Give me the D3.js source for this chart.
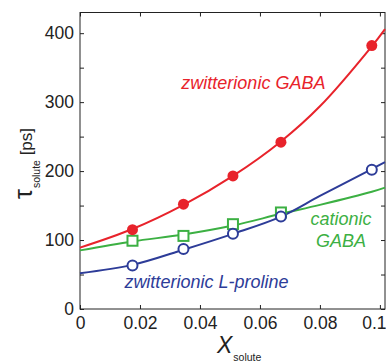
<meta charset="utf-8">
<title>tau solute</title>
<style>
  body { margin: 0; background: #fff; }
  text { font-family: "Liberation Sans", Arial, sans-serif; }
</style>
<body>
<script src="https://d3js.org/d3.v7.min.js"></script>
<script>

var width = 386;
var height = 364;
var margin = { top: 12.5, right: 1, bottom: 55, left: 80 };

// measured points
var xPts = [0.0175, 0.0345, 0.051, 0.067, 0.0973];
var redPts = [115, 152, 193, 242, 382];
var greenPts = [99, 106, 123, 140];
var bluePts = [63, 87, 109, 134, 202];

// fit curves
var fitX = [0, 0.0175, 0.0345, 0.051, 0.067, 0.08, 0.0973, 0.1017];
var redFit = [89, 116, 151, 193, 243, 294, 381, 406];
var greenFit = [85, 98, 108, 121, 138, 151, 170, 176];
var blueFit = [52, 64, 86, 109, 134, 164, 203, 213];

var xTicks = [0, 0.02, 0.04, 0.06, 0.08, 0.1];
var xTickLabels = ['0', '0.02', '0.04', '0.06', '0.08', '0.1'];
var yTicks = [0, 50, 100, 150, 200, 250, 300, 350, 400];
var yTickLabels = ['0', '', '100', '', '200', '', '300', '', '400'];

var red = '#e8232b', green = '#3cb043', blue = '#2d3c98';

var svg = d3.select('body').append('svg')
    .attr('width', width)
    .attr('height', height);

var x = d3.scaleLinear().domain([0, 0.1017]).range([margin.left, width - margin.right]);
var y = d3.scaleLinear().domain([0, 430]).range([height - margin.bottom, margin.top]);

var axisColor = '#222';

// frame
svg.append('rect')
    .attr('x', x(0)).attr('y', y(430))
    .attr('width', x(0.1017) - x(0)).attr('height', y(0) - y(430))
    .style('fill', 'none').style('stroke', axisColor).style('stroke-width', 1);

// axes: ticks inward, on all four sides
var gx = svg.append('g').attr('transform', 'translate(0,' + y(0) + ')')
    .call(d3.axisBottom(x).tickValues(xTicks).tickSize(-4).tickPadding(8)
      .tickFormat(function(d, i) { return xTickLabels[i]; }));
var gxTop = svg.append('g').attr('transform', 'translate(0,' + y(430) + ')')
    .call(d3.axisTop(x).tickValues(xTicks).tickSize(-4).tickFormat(''));
var gy = svg.append('g').attr('transform', 'translate(' + x(0) + ',0)')
    .call(d3.axisLeft(y).tickValues(yTicks).tickSize(-4).tickPadding(6)
      .tickFormat(function(d, i) { return yTickLabels[i]; }));
var gyR = svg.append('g').attr('transform', 'translate(' + x(0.1017) + ',0)')
    .call(d3.axisRight(y).tickValues(yTicks).tickSize(-4).tickFormat(''));

[gx, gxTop, gy, gyR].forEach(function(g) {
  g.select('.domain').remove();
  g.selectAll('line').style('stroke', axisColor);
  g.selectAll('text').style('font-size', '17.5px').style('fill', axisColor)
    .style('font-family', '"Liberation Sans", Arial, sans-serif');
});
gx.selectAll('text').attr('dy', '0.71em');
// last label sits against the right edge
gx.selectAll('.tick').filter(function(d) { return d === 0.1; })
    .select('text').attr('text-anchor', 'end').attr('x', width - x(0.1));

// fit lines
var line = d3.line()
    .x(function(d) { return x(d[0]); })
    .y(function(d) { return y(d[1]); })
    .curve(d3.curveCatmullRom.alpha(0.5));

function fitData(vals) { return fitX.map(function(v, i) { return [v, vals[i]]; }); }

svg.append('path').datum(fitData(greenFit)).attr('d', line)
    .style('fill', 'none').style('stroke', green).style('stroke-width', 2);
svg.append('path').datum(fitData(blueFit)).attr('d', line)
    .style('fill', 'none').style('stroke', blue).style('stroke-width', 2);
svg.append('path').datum(fitData(redFit)).attr('d', line)
    .style('fill', 'none').style('stroke', red).style('stroke-width', 2);

// markers
svg.append('g').selectAll('rect')
    .data(greenPts).enter().append('rect')
    .attr('x', function(d, i) { return x(xPts[i]) - 5; })
    .attr('y', function(d) { return y(d) - 5; })
    .attr('width', 10).attr('height', 10)
    .style('fill', '#fff').style('stroke', green).style('stroke-width', 2);

svg.append('g').selectAll('circle')
    .data(bluePts).enter().append('circle')
    .attr('cx', function(d, i) { return x(xPts[i]); })
    .attr('cy', function(d) { return y(d); })
    .attr('r', 5)
    .style('fill', '#fff').style('stroke', blue).style('stroke-width', 2);

svg.append('g').selectAll('circle')
    .data(redPts).enter().append('circle')
    .attr('cx', function(d, i) { return x(xPts[i]); })
    .attr('cy', function(d) { return y(d); })
    .attr('r', 5.5)
    .style('fill', red).style('stroke', 'none');

// series labels
svg.append('text').attr('x', x(0.0338)).attr('y', y(319))
    .text('zwitterionic GABA')
    .style('font-size', '18px').style('font-style', 'italic').style('fill', red);
svg.append('text').attr('x', x(0.087)).attr('y', y(122))
    .attr('text-anchor', 'middle').text('cationic')
    .style('font-size', '18px').style('font-style', 'italic').style('fill', green);
svg.append('text').attr('x', x(0.087)).attr('y', y(90))
    .attr('text-anchor', 'middle').text('GABA')
    .style('font-size', '18px').style('font-style', 'italic').style('fill', green);
svg.append('text').attr('x', x(0.0148)).attr('y', y(30))
    .text('zwitterionic L-proline')
    .style('font-size', '18px').style('font-style', 'italic').style('fill', blue);

// axis titles
var xl = svg.append('text').attr('x', 217).attr('y', 353).style('fill', axisColor);
xl.append('tspan').text('X').style('font-size', '23px').style('font-style', 'italic');
xl.append('tspan').attr('dy', 8).attr('dx', 1).text('solute').style('font-size', '10.5px');

var yl = svg.append('text').attr('transform', 'translate(32,199) rotate(-90)').style('fill', axisColor);
yl.append('tspan').text('τ').style('font-size', '25px');
yl.append('tspan').attr('dy', 8).attr('dx', 1).text('solute').style('font-size', '10.5px');
yl.append('tspan').attr('dy', -8).text(' [ps]').style('font-size', '17px');

</script>
